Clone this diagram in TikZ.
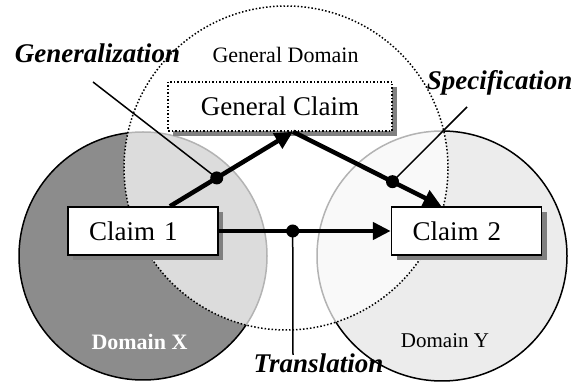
\documentclass[tikz,border=0pt]{standalone}
\usepackage{fontspec}
\setmainfont{Liberation Serif}
\definecolor{domaindark}{RGB}{140,140,140}
\definecolor{domainlight}{RGB}{236,236,236}
\definecolor{shadowgray}{RGB}{128,128,128}
\usetikzlibrary{arrows.meta,positioning,calc,shadows}

\tikzset{
  claimbox/.style={draw, line width=1.5pt, fill=white, minimum height=48pt,
    text width=108pt, inner xsep=21pt, align=left,
    font=\fontsize{27}{32}\selectfont,
    drop shadow={shadow xshift=5pt, shadow yshift=-5pt, fill=shadowgray, opacity=1}},
  flow/.style={line width=4.5pt, -{Triangle[length=18pt,width=17pt]}},
  leader/.style={line width=1.5pt},
  joint/.style={circle, fill=black, inner sep=0pt, minimum size=13pt},
  tag/.style={font=\fontsize{27}{32}\selectfont\bfseries\itshape, anchor=base},
}

\begin{document}
\begin{tikzpicture}[x=1pt, y=1pt]
  \useasboundingbox (0,0) rectangle (581,382);
  \fill[white] (0,0) rectangle (581,382);

  % the three domains
  \draw[line width=1.5pt, fill=domaindark] (143,126) circle (124pt);
  \draw[line width=1.5pt, fill=domainlight] (442,126) circle (125pt);
  \draw[line width=1.5pt, dotted, fill=white, fill opacity=0.7] (286,214) circle (162pt);

  \node[font=\fontsize{22}{26}\selectfont, anchor=base] (gdlabel) at (285.5,319) {General Domain};
  \node[font=\fontsize{22}{26}\selectfont\bfseries, text=white, anchor=base] (dxlabel) at (139.5,32) {Domain X};
  \node[font=\fontsize{21}{25}\selectfont, anchor=base] (dylabel) at (445,34) {Domain Y};

  % claims
  \node[draw, dotted, line width=1.5pt, fill=white, minimum width=224pt, minimum height=49pt,
        font=\fontsize{27}{32}\selectfont,
        drop shadow={shadow xshift=5pt, shadow yshift=-5pt, fill=shadowgray, opacity=1}]
        (gclaim) at (280,275.5) {General Claim};
  \node[claimbox] (claim1) at (143,151) {Claim 1};
  \node[claimbox] (claim2) at (466.5,151) {Claim 2};

  \coordinate (apex) at ([xshift=13pt]gclaim.south);
  \coordinate (gstart) at ([xshift=27pt]claim1.north);
  \coordinate (send) at ([xshift=-25pt]claim2.north);

  \draw[flow] (gstart) -- (apex);
  \draw[flow] (apex) -- (send);
  \draw[flow] (claim1.east) -- (claim2.west);

  \node[joint] (gdot) at ($(gstart)!0.38!(apex)$) {};
  \node[joint] (sdot) at ($(apex)!0.67!(send)$) {};
  \node[joint] (tdot) at ($(claim1.east)!0.43!(claim2.west)$) {};

  % labels and leaders
  \node[tag] (genlabel) at (97.5,319) {Generalization};
  \node[tag] (speclabel) at (499.5,292) {Specification};
  \node[tag] (translabel) at (318.5,9) {Translation};

  \coordinate (genend) at (93,300);
  \coordinate (specend) at (467,275);
  \coordinate (transend) at (293,27);
  \draw[leader] (genend) -- (gdot.center);
  \draw[leader] (specend) -- (sdot.center);
  \draw[leader] (tdot.center) -- (transend);
\end{tikzpicture}
\end{document}
